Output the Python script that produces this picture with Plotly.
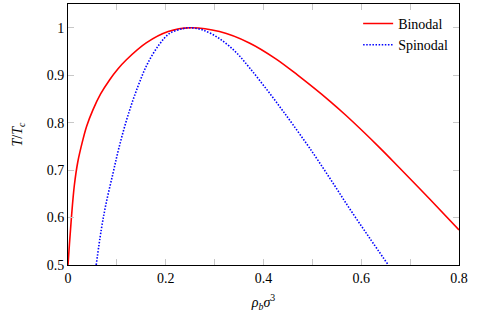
import plotly.graph_objects as go

binodal_x = [0.0, 0.003, 0.007, 0.013, 0.020, 0.030, 0.038, 0.051, 0.067, 0.085, 0.102, 0.119,
             0.160, 0.205, 0.25, 0.310, 0.371, 0.426, 0.470, 0.535, 0.569, 0.637, 0.678,
             0.740, 0.800]
binodal_y = [0.5, 0.545, 0.600, 0.668, 0.717, 0.762, 0.792, 0.827, 0.861, 0.890, 0.913, 0.932,
             0.968, 0.992, 1.0, 0.992, 0.968, 0.934, 0.900, 0.846, 0.815, 0.748, 0.705,
             0.639, 0.574]

spinodal_x = [0.0577, 0.068, 0.078, 0.092, 0.104, 0.122, 0.143, 0.163, 0.187, 0.208, 0.235, 0.25,
              0.276, 0.310, 0.344, 0.371, 0.402, 0.433, 0.460, 0.494, 0.535, 0.576, 0.617, 0.654]
spinodal_y = [0.5, 0.574, 0.630, 0.693, 0.746, 0.813, 0.876, 0.925, 0.965, 0.988, 0.998, 1.0,
              0.995, 0.977, 0.948, 0.916, 0.876, 0.834, 0.796, 0.747, 0.684, 0.619, 0.557, 0.502]

x_ticks = [0.0, 0.1, 0.2, 0.3, 0.4, 0.5, 0.6, 0.7, 0.8]
x_labels = ["0", "", "0.2", "", "0.4", "", "0.6", "", "0.8"]
y_ticks = [0.5, 0.6, 0.7, 0.8, 0.9, 1.0]
y_labels = ["0.5", "0.6", "0.7", "0.8", "0.9", "1"]

FONT = "Liberation Serif, DejaVu Serif, serif"

fig = go.Figure()
fig.add_trace(go.Scatter(x=binodal_x, y=binodal_y, mode="lines", name="Binodal",
                         line=dict(color="#ff0000", width=1.6, shape="spline", smoothing=1.0)))
fig.add_trace(go.Scatter(x=spinodal_x, y=spinodal_y, mode="lines", name="Spinodal",
                         line=dict(color="#0000ff", width=1.6, dash="1.5px,1.6px",
                                   shape="spline", smoothing=1.0)))

axis_common = dict(showline=True, linecolor="black", linewidth=1, mirror="ticks",
                   ticks="inside", ticklen=6, tickcolor="#c8c8c8", tickwidth=1,
                   showgrid=False, zeroline=False,
                   tickfont=dict(family=FONT, size=14, color="black"))

fig.update_xaxes(range=[0, 0.8], tickvals=x_ticks, ticktext=x_labels,
                 title=dict(text="<i>ρ<sub>b</sub>σ</i><sup>3</sup>",
                            font=dict(family=FONT, size=14, color="black"), standoff=12),
                 **axis_common)
fig.update_yaxes(range=[0.5, 1.05], tickvals=y_ticks, ticktext=y_labels,
                 title=dict(text="<i>T</i>/<i>T</i><sub><i>c</i></sub>",
                            font=dict(family=FONT, size=14, color="black"), standoff=20),
                 **axis_common)

fig.update_layout(
    width=482, height=324,
    margin=dict(l=68, r=23, t=4, b=59),
    paper_bgcolor="white", plot_bgcolor="white",
    showlegend=True,
    legend=dict(x=0.985, xanchor="right", y=0.985, yanchor="top",
                bgcolor="rgba(0,0,0,0)", borderwidth=0,
                font=dict(family=FONT, size=14, color="black"),
                itemwidth=30, tracegroupgap=0),
)

fig.write_html("out.html")
